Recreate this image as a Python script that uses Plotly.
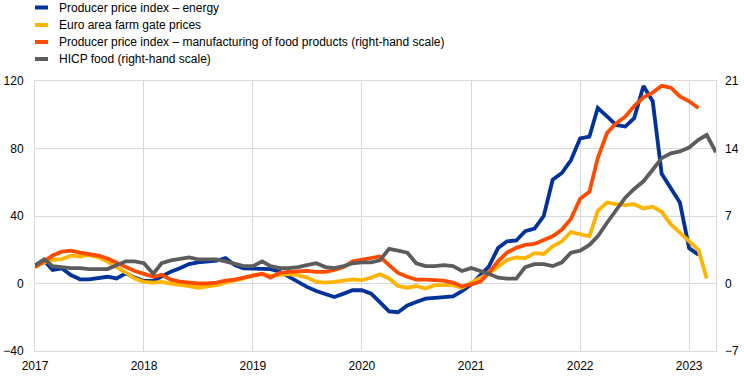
import pandas as pd
import plotly.graph_objects as go

# ---------------- data (monthly, Jan 2017 onwards) ----------------
ppi_energy = [10, 13.5, 8, 9, 5, 2.5, 2.5, 3.5, 4, 3, 6, 3.5,
              1.5, 1.5, 4, 7, 9, 11.5, 12.5, 13, 13.5, 15, 11, 9,
              9, 9, 8.5, 7, 4, 0.5, -2, -4.5, -6, -8, -6, -4,
              -4, -6, -11, -16.5, -17, -13, -11, -9, -8.5, -8.2, -7.7, -4.5,
              -0.6, 5, 10, 21, 25, 25.5, 31, 32.5, 40, 61.5, 65.5, 73,
              86, 87, 104, 99, 94, 93, 98, 117, 108, 65, 56, 48,
              21, 17]

farm_gate = [10, 12.5, 14, 14.5, 16.5, 16, 17, 15.5, 13, 10, 6.5, 3,
             1, 0.5, 1, 0, -0.5, -1.5, -2.5, -2, -1, 0.5, 1.5, 3,
             5, 5.5, 4.5, 5, 5.5, 5, 3.5, 1, 0.5, 1, 1.5, 2.4,
             2, 3.5, 5.5, 3, -1.5, -2.5, -1.5, -3, -1, -1, -1, -2.5,
             0.5, 3, 6, 10, 14, 15.5, 15, 18, 17.5, 22, 25, 30.5,
             29, 28, 43, 48, 47, 46.5, 47, 44.5, 45.5, 42.5, 35, 30,
             25, 20, 3]

ppi_food = [1.7, 2.3, 2.9, 3.3, 3.4, 3.2, 3.1, 2.9, 2.6, 2.2, 1.8, 1.3,
            1.0, 0.7, 0.9, 0.4, 0.2, 0.1, 0.0, 0.0, 0.1, 0.3, 0.4, 0.6,
            0.8, 1.0, 0.6, 1.1, 1.2, 1.3, 1.3, 1.2, 1.2, 1.4, 1.7, 2.3,
            2.5, 2.7, 2.8, 1.9, 1.1, 0.7, 0.4, 0.4, 0.3, 0.3, 0.1, -0.3,
            -0.1, 0.2, 1.1, 2.3, 3.2, 3.7, 4.0, 4.1, 4.5, 4.9, 5.6, 6.7,
            8.8, 9.5, 13.0, 15.6, 16.6, 17.3, 18.4, 19.3, 19.8, 20.5, 20.3, 19.4,
            18.9, 18.2]

hicp_food = [1.9, 2.5, 1.8, 1.7, 1.6, 1.6, 1.5, 1.5, 1.5, 1.9, 2.3, 2.3,
             2.1, 1.0, 2.1, 2.4, 2.5, 2.7, 2.5, 2.5, 2.5, 2.3, 2.0, 1.8,
             1.8, 2.3, 1.8, 1.6, 1.6, 1.7, 1.9, 2.1, 1.7, 1.6, 1.8, 2.1,
             2.2, 2.2, 2.4, 3.6, 3.4, 3.2, 2.1, 1.8, 1.8, 1.9, 1.8, 1.3,
             1.6, 1.3, 1.0, 0.6, 0.5, 0.5, 1.7, 2.0, 2.0, 1.8, 2.2, 3.2,
             3.4, 4.0, 4.9, 6.3, 7.5, 8.9, 9.8, 10.6, 11.8, 13.0, 13.5, 13.7,
             14.1, 14.9, 15.4, 13.6]

series_names = ["Producer price index \u2013 energy",
                "Euro area farm gate prices",
                "Producer price index \u2013 manufacturing of food products (right-hand scale)",
                "HICP food (right-hand scale)"]
series_colors = ["#003299", "#FFB400", "#FF4B00", "#5C5C5C"]

left_ticks = [-40, 0, 40, 80, 120]
right_ticks = [-7, 0, 7, 14, 21]
year_ticks = ["2017", "2018", "2019", "2020", "2021", "2022", "2023"]


def months(n):
    return pd.date_range("2017-01-01", periods=n, freq="MS")


fig = go.Figure()
data = [(ppi_energy, "y"), (farm_gate, "y"), (ppi_food, "y2"), (hicp_food, "y2")]
for (vals, ax), name, col in zip(data, series_names, series_colors):
    fig.add_trace(go.Scatter(x=months(len(vals)), y=vals, name=name, yaxis=ax,
                             mode="lines", line=dict(color=col, width=3.8),
                             showlegend=False))

# custom legend (short thick symbols like the original)
legend_y = [7.5, 25, 42, 59]  # pixel centres from top
H_PLOT_TOP, H_PLOT_BOT, W_LEFT, W_PLOT = 81, 351, 35, 681
shapes = []
annotations = []
for name, col, py in zip(series_names, series_colors, legend_y):
    yp = (H_PLOT_BOT - py) / (H_PLOT_BOT - H_PLOT_TOP)
    shapes.append(dict(type="line", xref="paper", yref="paper",
                       x0=0, x1=13 / W_PLOT, y0=yp, y1=yp,
                       line=dict(color=col, width=4)))
    annotations.append(dict(text=name, xref="paper", yref="paper",
                            x=(57 - W_LEFT) / W_PLOT, y=yp, xanchor="left",
                            yanchor="middle", showarrow=False,
                            font=dict(size=12, color="#000")))

grid = "#d9d9d9"
fig.update_layout(
    width=744, height=377,
    margin=dict(l=35, r=28, t=81, b=26),
    paper_bgcolor="white", plot_bgcolor="white",
    font=dict(family="Liberation Sans, Arial, sans-serif", size=12, color="#000"),
    shapes=shapes, annotations=annotations,
    xaxis=dict(type="date", range=["2017-01-01", "2023-04-01"],
               tickvals=[y + "-01-01" for y in year_ticks], ticktext=year_ticks,
               showgrid=True, gridcolor=grid, gridwidth=1,
               showline=True, linecolor=grid, linewidth=1, mirror=True,
               ticks="", ticklabelstandoff=4, zeroline=False, automargin=False),
    yaxis=dict(range=[-40, 120], tickvals=left_ticks,
               showgrid=True, gridcolor=grid, gridwidth=1,
               showline=True, linecolor=grid, linewidth=1, mirror=True,
               ticks="", ticklabelstandoff=8, zeroline=False, automargin=False),
    yaxis2=dict(range=[-7, 21], tickvals=right_ticks, overlaying="y", side="right",
                showgrid=False, showline=False, ticks="", ticklabelstandoff=8,
                zeroline=False, automargin=False),
)

fig.write_html("out.html",
               config={"displayModeBar": False},
               post_script="document.body.style.margin='0px';document.body.style.overflow='hidden';")
